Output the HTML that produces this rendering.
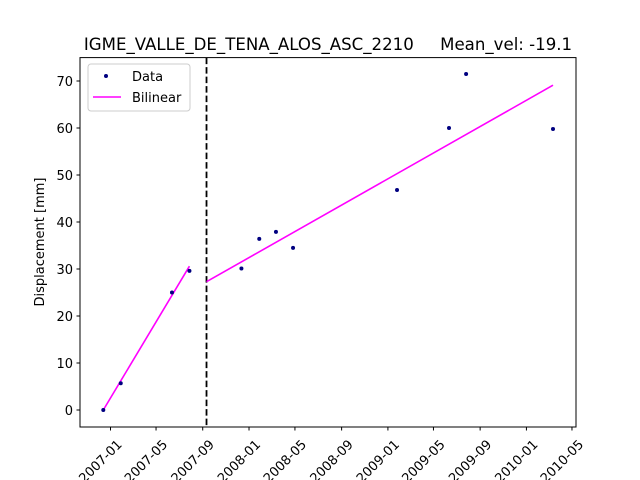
<!DOCTYPE html>
<html><head><meta charset="utf-8"><style>
body{margin:0;background:#fff}
svg{display:block;font-family:"DejaVu Sans","Liberation Sans",sans-serif}
</style></head><body>
<svg id="chart" width="640" height="480" viewBox="0 0 640 480" xmlns="http://www.w3.org/2000/svg">
<rect width="640" height="480" fill="#fff"/>
<text x="328" y="50" font-size="16.6" text-anchor="middle" xml:space="preserve">IGME_VALLE_DE_TENA_ALOS_ASC_2210     Mean_vel: -19.1</text>
<g id="plot"></g>
<text transform="translate(44,242) rotate(-90)" font-size="13" text-anchor="middle">Displacement [mm]</text>
<g>
<rect x="88" y="64" width="102" height="47" rx="3" fill="#fff" stroke="#ccc"/>
<circle cx="106" cy="76" r="2" fill="#000080"/>
<text x="132" y="81" font-size="13">Data</text>
<line x1="93" y1="97" x2="121" y2="97" stroke="#ff00ff" stroke-width="1.6"/>
<text x="132" y="102" font-size="13">Bilinear</text>
</g>
</svg>
<script>
const dates = ["2006-12-13","2007-01-28","2007-06-12","2007-07-28","2007-12-12","2008-01-28","2008-03-12","2008-04-26","2009-01-25","2009-06-11","2009-07-26","2010-03-12"];
const values = [0,5.7,25.0,29.6,30.1,36.4,37.9,34.5,46.8,60.0,71.5,59.8];
const fitDates1 = ["2006-12-13","2007-07-28"];
const fitValues1 = [0,30.6];
const fitDates2 = ["2007-09-11","2010-03-12"];
const fitValues2 = [27.3,69.1];
const breakDate = "2007-09-11";
const yTicks = [0,10,20,30,40,50,60,70];
const xTicks = ["2007-01","2007-05","2007-09","2008-01","2008-05","2008-09","2009-01","2009-05","2009-09","2010-01","2010-05"];

const NS="http://www.w3.org/2000/svg";
const g=document.getElementById('plot');
const t0=Date.UTC(2007,0,1);
function x(d){const p=d.split('-').map(Number);const t=Date.UTC(p[0],p[1]-1,p[2]||1);return 110.5+(t-t0)/86400000*0.3795;}
function y(v){return 410-4.7*v;}
function mk(tag,attrs){const e=document.createElementNS(NS,tag);for(const k in attrs)e.setAttribute(k,attrs[k]);g.appendChild(e);return e;}

yTicks.forEach(v=>{
 let l=mk('line',{x1:76.5,x2:80,y1:y(v),y2:y(v),stroke:'#000'});
 
 
 let t=mk('text',{x:73,y:y(v)+5,'font-size':13,'text-anchor':'end'});t.textContent=v;
 
 
});
xTicks.forEach(d=>{
 const xx=x(d);
 let l=mk('line',{x1:xx,x2:xx,y1:427,y2:430.5,stroke:'#000'});
 
 
 let t=mk('text',{transform:`translate(${xx+6},${439}) rotate(-45)`,'font-size':13,'text-anchor':'end','dominant-baseline':'hanging'});t.textContent=d;
 
 
});
let bl=mk('line',{x1:x(breakDate),x2:x(breakDate),y1:57.6,y2:427,stroke:'#000','stroke-width':1.8,'stroke-dasharray':'6.5,3'});


let f1=mk('line',{x1:x(fitDates1[0]),y1:y(fitValues1[0]),x2:x(fitDates1[1]),y2:y(fitValues1[1]),stroke:'#ff00ff','stroke-width':1.6});


let f2=mk('line',{x1:x(fitDates2[0]),y1:y(fitValues2[0]),x2:x(fitDates2[1]),y2:y(fitValues2[1]),stroke:'#ff00ff','stroke-width':1.6});


dates.forEach((d,i)=>{
 let c=mk('circle',{cx:x(d),cy:y(values[i]),r:2,fill:'#000080'});
 
 
});
let fr=mk('rect',{x:80,y:57.6,width:496,height:369.4,fill:'none',stroke:'#000','stroke-width':1});


</script>
</body></html>
